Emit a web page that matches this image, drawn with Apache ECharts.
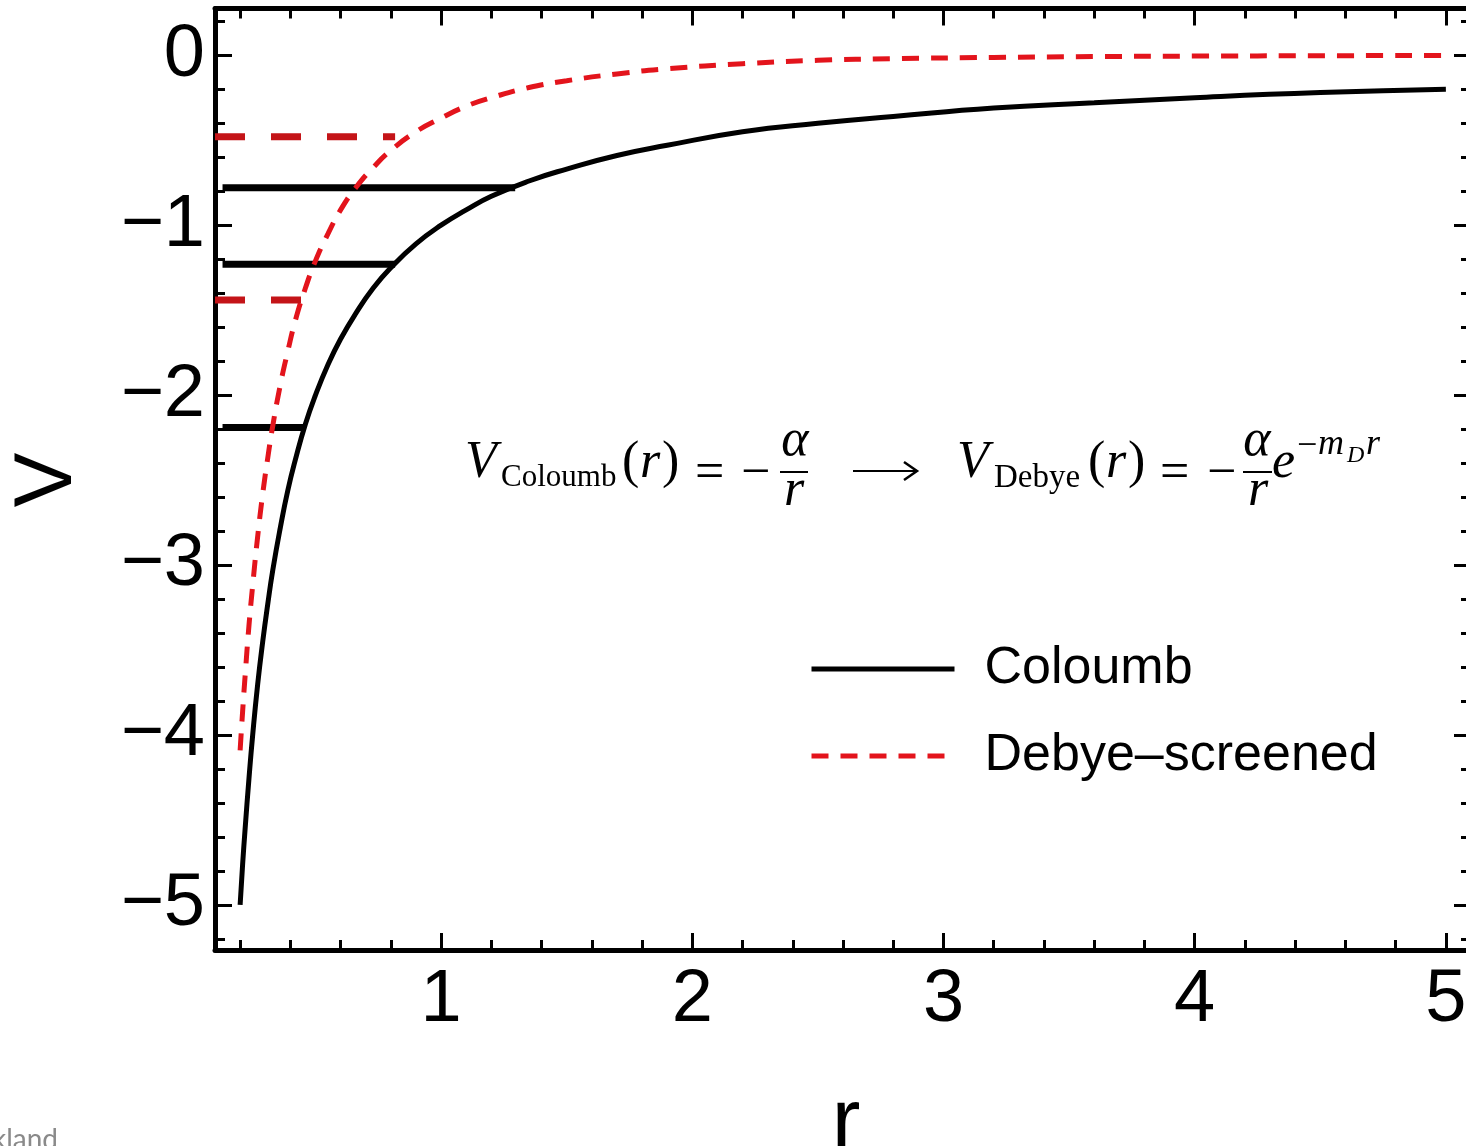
<!DOCTYPE html>
<html>
<head>
    <meta charset="utf-8">
    <style>
        html, body {
            margin: 0;
            padding: 0;
            width: 100%;
            height: 100%;
            background: #fff;
        }

        #chart-panel {
            width: 1466px;
            height: 1146px;
        }
    </style>
</head>
<body>
    <div id="chart-panel"></div>
    <script type="text/javascript" src="https://cdn.jsdelivr.net/npm/echarts@6/dist/echarts.min.js"></script>
    <script type="text/javascript">
        // curves
        var rValues = [0.2, 0.21, 0.22, 0.235, 0.25, 0.27, 0.29, 0.31, 0.33, 0.36, 0.39, 0.42, 0.46, 0.5, 0.55, 0.6, 0.66, 0.73, 0.8, 0.9, 1.0, 1.1, 1.2, 1.35, 1.5, 1.7, 1.9, 2.2, 2.5, 2.8, 3.2, 3.6, 4.0, 4.5, 5.0];
        var coulombV = [-5.0, -4.76, -4.55, -4.26, -4.0, -3.7, -3.45, -3.23, -3.03, -2.78, -2.56, -2.38, -2.17, -2.0, -1.82, -1.67, -1.52, -1.37, -1.25, -1.11, -1.0, -0.91, -0.83, -0.74, -0.67, -0.59, -0.53, -0.45, -0.4, -0.36, -0.31, -0.28, -0.25, -0.22, -0.2];
        var debyeV = [-4.09, -3.86, -3.65, -3.36, -3.12, -2.83, -2.58, -2.37, -2.18, -1.94, -1.74, -1.56, -1.37, -1.21, -1.05, -0.91, -0.78, -0.66, -0.56, -0.45, -0.37, -0.3, -0.25, -0.19, -0.15, -0.11, -0.08, -0.05, -0.03, -0.02, -0.013, -0.008, -0.005, -0.003, -0.001];

        // bound-state levels: energy, start r, end r
        var coulombLevels = [-0.78, -1.23, -2.19];
        var coulombLevelStart = [0.13, 0.13, 0.13];
        var coulombLevelEnd = [1.295, 0.817, 0.457];
        var debyeLevels = [-0.48, -1.44];
        var debyeLevelStart = [0.1, 0.1];
        var debyeLevelEnd = [0.817, 0.447];

        // axes
        var xMin = 0.1, xMax = 5.1;
        var yMin = -5.265, yMax = 0.275;
        var xMajor = [1, 2, 3, 4, 5];
        var xMinor = [0.2, 0.4, 0.6, 0.8, 1.2, 1.4, 1.6, 1.8, 2.2, 2.4, 2.6, 2.8, 3.2, 3.4, 3.6, 3.8, 4.2, 4.4, 4.6, 4.8];
        var yMajor = [-5, -4, -3, -2, -1, 0];
        var yMinor = [-5.2, -4.8, -4.6, -4.4, -4.2, -3.8, -3.6, -3.4, -3.2, -2.8, -2.6, -2.4, -2.2, -1.8, -1.6, -1.4, -1.2, -0.8, -0.6, -0.4, -0.2, 0.2];

        var seriesNames = ['Coloumb', 'Debye–screened'];

        function pairs (xs, ys) {
            return xs.map(function (x, i) { return [x, ys[i]]; });
        }

        function tickLabel (v) {
            return v < 0 ? '\u2212' + (-v) : String(v);
        }

        function makeAxis (dim, pos, values, len, showLine, showLabel) {
            return {
                type: 'value',
                gridIndex: 0,
                position: pos,
                min: dim === 'x' ? xMin : yMin,
                max: dim === 'x' ? xMax : yMax,
                axisLine: {
                    show: showLine,
                    onZero: false,
                    lineStyle: { color: '#000', width: 5 }
                },
                axisTick: {
                    show: true,
                    inside: true,
                    length: len,
                    customValues: values,
                    lineStyle: { color: '#000', width: 3 }
                },
                axisLabel: {
                    show: showLabel,
                    customValues: values,
                    formatter: tickLabel,
                    color: '#000',
                    fontFamily: 'Liberation Sans',
                    fontSize: 74,
                    margin: dim === 'x' ? 14 : 10
                },
                splitLine: { show: false },
                minorTick: { show: false }
            };
        }

        var series = [];
        coulombLevels.forEach(function (v, i) {
            series.push({
                name: 'coulomb-level',
                type: 'line',
                symbol: 'none',
                z: 3,
                data: [[coulombLevelStart[i], v], [coulombLevelEnd[i], v]],
                lineStyle: { color: '#000', width: 7 }
            });
        });
        series.push({
            name: seriesNames[0],
            type: 'line',
            symbol: 'none',
            smooth: 0.5,
            z: 4,
            data: pairs(rValues, coulombV),
            itemStyle: { color: '#000' },
            lineStyle: { color: '#000', width: 5 }
        });
        series.push({
            name: seriesNames[1],
            type: 'line',
            symbol: 'none',
            smooth: 0.5,
            z: 5,
            data: pairs(rValues, debyeV),
            itemStyle: { color: '#e3141c' },
            lineStyle: { color: '#e3141c', width: 5, type: [17, 12] }
        });
        debyeLevels.forEach(function (v, i) {
            series.push({
                name: 'debye-level',
                type: 'line',
                symbol: 'none',
                z: 5,
                data: [[debyeLevelStart[i], v], [debyeLevelEnd[i], v]],
                lineStyle: { color: '#c41418', width: 7, type: [30, 26] }
            });
        });

        // formula annotation pieces
        var serif = '"Liberation Serif", "DejaVu Serif", serif';
        function txt (x, y, text, size, italic, align) {
            return {
                type: 'text',
                x: x,
                y: y,
                z: 10,
                style: {
                    text: text,
                    font: (italic ? 'italic ' : '') + size + 'px ' + serif,
                    fill: '#000',
                    textAlign: align || 'left',
                    textVerticalAlign: 'middle'
                }
            };
        }
        function bar (x1, x2, y) {
            return {
                type: 'line',
                z: 10,
                shape: { x1: x1, y1: y, x2: x2, y2: y },
                style: { stroke: '#000', lineWidth: 2 }
            };
        }

        var formula = [
            txt(465, 463, 'V', 52, true),
            txt(501, 478, 'Coloumb', 31, false),
            txt(622, 463, '(', 52, false),
            txt(640, 463, 'r', 52, true),
            txt(662, 463, ')', 52, false),
            txt(695, 474, '=', 52, false),
            txt(741, 474, '\u2212', 52, false),
            txt(795, 441, '\u03b1', 52, true, 'center'),
            bar(780, 808, 472),
            txt(794, 491, 'r', 52, true, 'center'),
            bar(853, 916, 471),
            {
                type: 'polyline',
                z: 10,
                shape: { points: [[904, 462], [917, 471], [904, 480]] },
                style: { stroke: '#000', lineWidth: 2.5, fill: null }
            },
            txt(957, 463, 'V', 52, true),
            txt(994, 478, 'Debye', 33, false),
            txt(1088, 463, '(', 52, false),
            txt(1106, 463, 'r', 52, true),
            txt(1128, 463, ')', 52, false),
            txt(1160, 474, '=', 52, false),
            txt(1207, 474, '\u2212', 52, false),
            txt(1257, 441, '\u03b1', 52, true, 'center'),
            bar(1243, 1272, 472),
            txt(1258, 491, 'r', 52, true, 'center'),
            txt(1272, 463, 'e', 52, true),
            txt(1297, 447, '\u2212', 36, false),
            txt(1318, 445, 'm', 36, true),
            txt(1347, 456, 'D', 24, true),
            txt(1366, 445, 'r', 36, true)
        ];

        var option = {
            backgroundColor: '#fff',
            animation: false,
            grid: {
                left: 215,
                top: 8.5,
                width: 1256,
                height: 941.5,
                containLabel: false,
                outerBoundsMode: 'none'
            },
            xAxis: [
                makeAxis('x', 'bottom', xMajor, 17, true, true),
                makeAxis('x', 'bottom', xMinor, 10, false, false),
                makeAxis('x', 'top', xMajor, 17, true, false),
                makeAxis('x', 'top', xMinor, 10, false, false)
            ],
            yAxis: [
                makeAxis('y', 'left', yMajor, 17, true, true),
                makeAxis('y', 'left', yMinor, 10, false, false),
                makeAxis('y', 'right', yMajor, 17, true, false),
                makeAxis('y', 'right', yMinor, 10, false, false)
            ],
            legend: {
                data: seriesNames.map(function (n) {
                    return {
                        name: n,
                        itemStyle: { color: 'rgba(0,0,0,0)', borderWidth: 0 }
                    };
                }),
                orient: 'vertical',
                left: 804,
                top: 634,
                itemWidth: 143,
                itemHeight: 20,
                itemGap: 27,
                selectedMode: false,
                lineStyle: { width: 5 },
                textStyle: {
                    color: '#000',
                    fontFamily: 'Liberation Sans',
                    fontSize: 52,
                    lineHeight: 60,
                    padding: [0, 0, 0, 25]
                }
            },
            graphic: formula.concat([
                {
                    type: 'text',
                    x: 48,
                    y: 480,
                    rotation: Math.PI / 2,
                    style: {
                        text: 'V',
                        font: '82px "Liberation Sans"',
                        fill: '#000',
                        textAlign: 'center',
                        textVerticalAlign: 'middle'
                    }
                },
                {
                    type: 'text',
                    x: 846,
                    y: 1124,
                    style: {
                        text: 'r',
                        font: '86px "Liberation Sans"',
                        fill: '#000',
                        textAlign: 'center',
                        textVerticalAlign: 'middle'
                    }
                },
                {
                    type: 'text',
                    x: -8,
                    y: 1140,
                    style: {
                        text: 'kland',
                        font: '28px Lato',
                        fill: '#8a8a8a',
                        textAlign: 'left',
                        textVerticalAlign: 'middle'
                    }
                }
            ]),
            series: series
        };

        var dom = document.getElementById('chart-panel');
        var myChart = echarts.init(dom, null, { renderer: 'canvas' });
        myChart.setOption(option);
    </script>
</body>
</html>
